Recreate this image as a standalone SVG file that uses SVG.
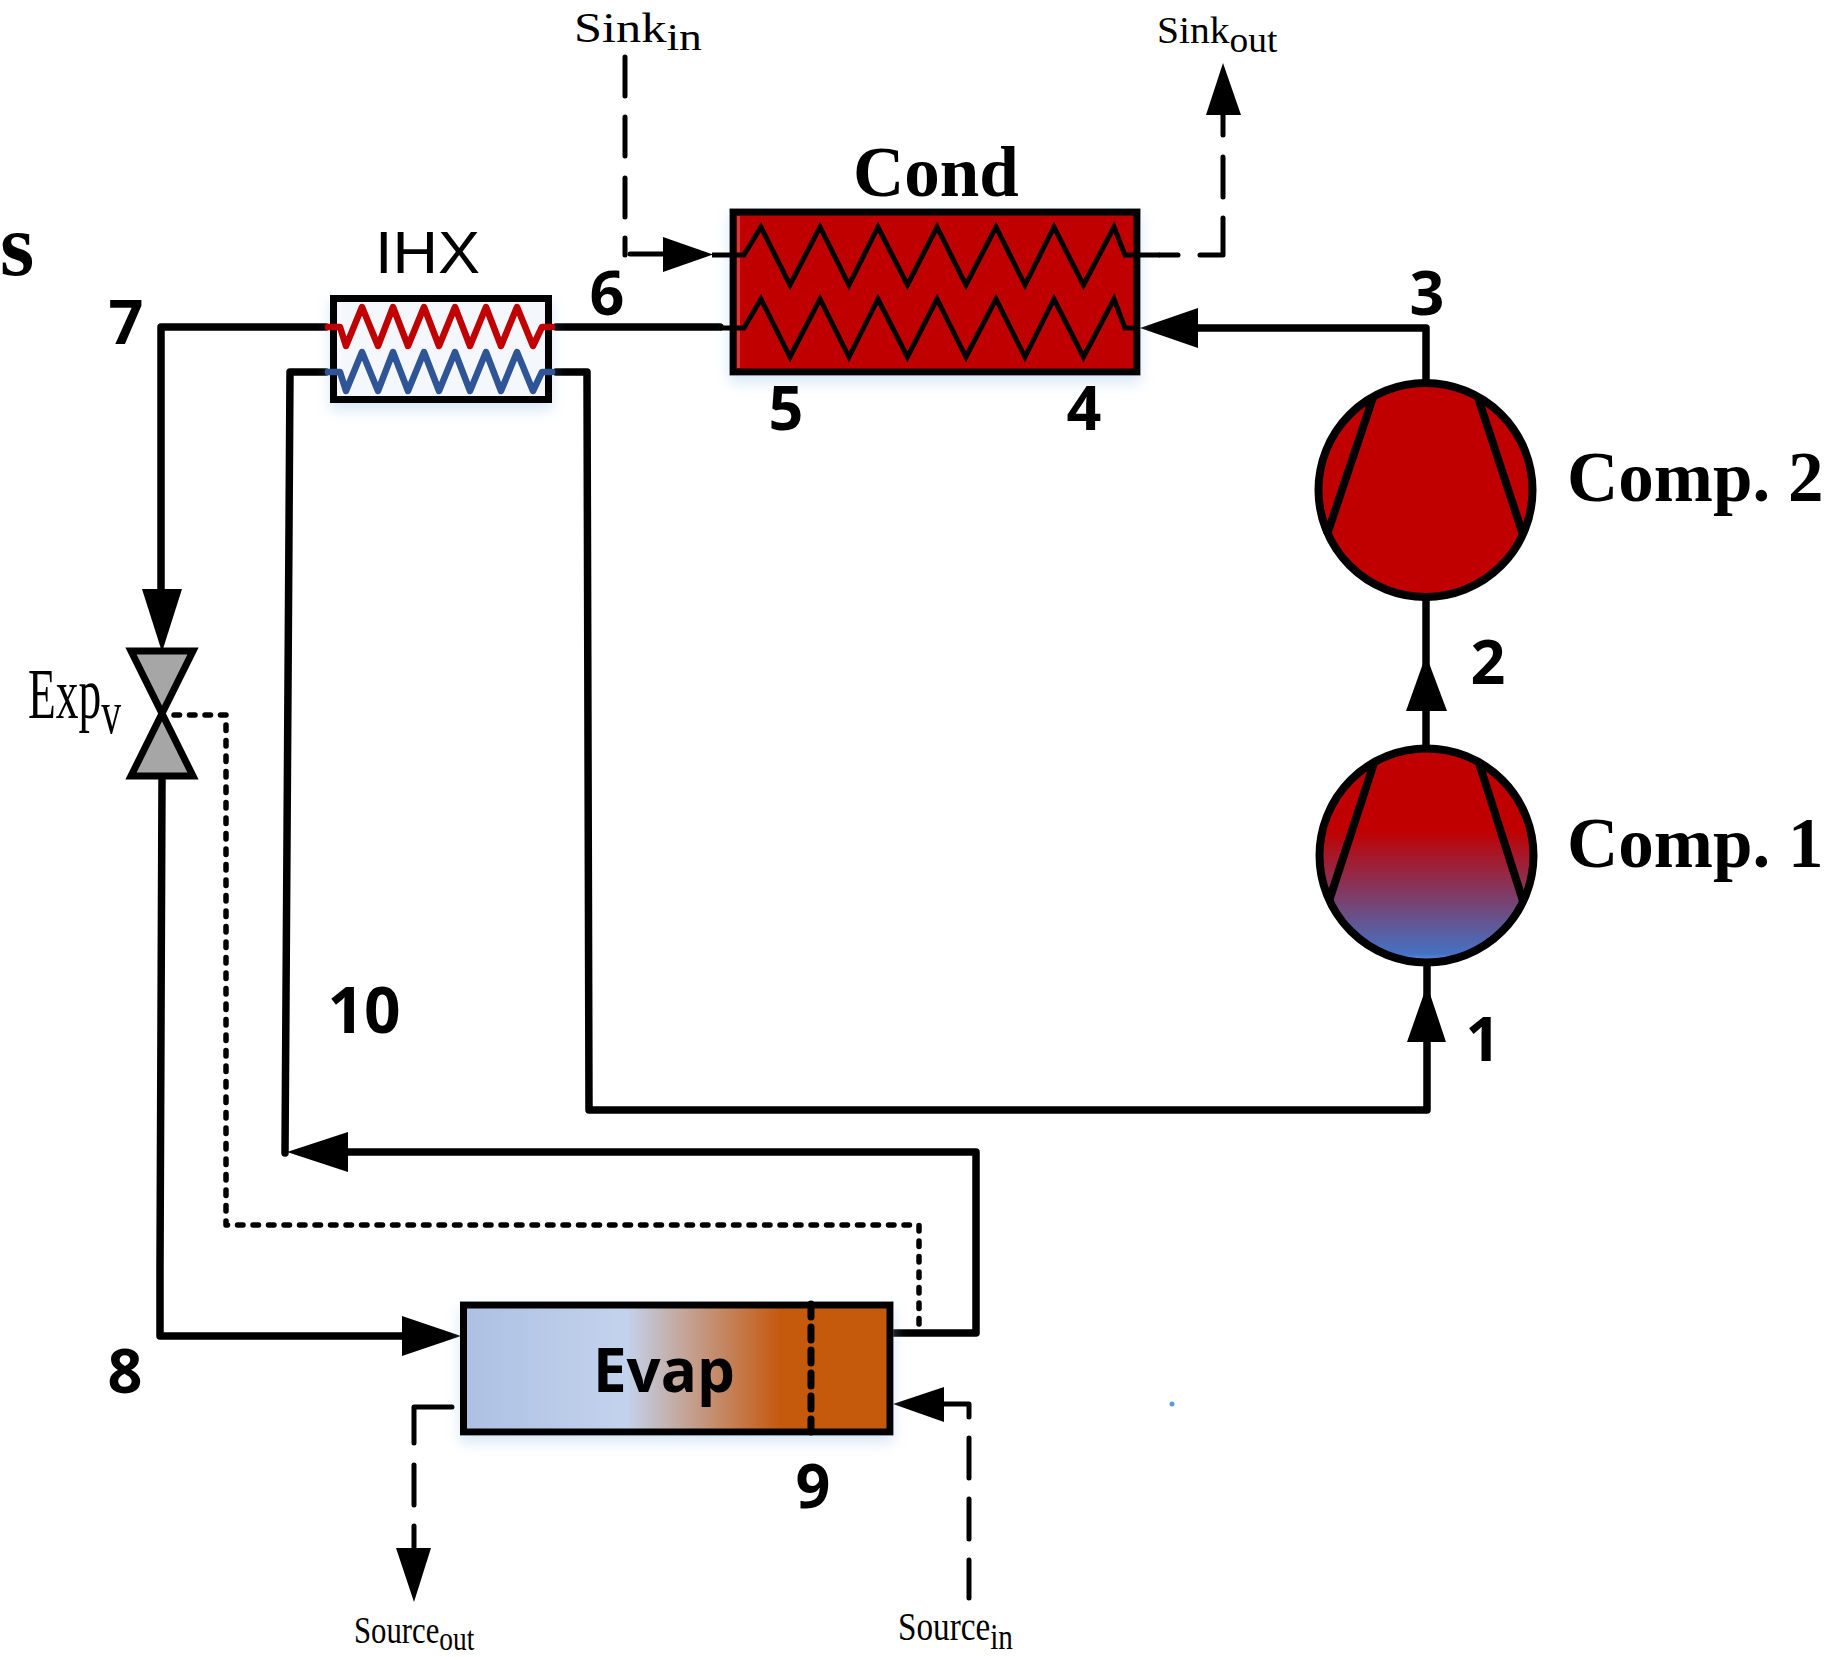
<svg xmlns="http://www.w3.org/2000/svg" width="1829" height="1657" viewBox="0 0 1829 1657">
<style>
.pipe{fill:none;stroke:#000;stroke-width:7.5;stroke-linecap:round;stroke-linejoin:round}
.thin{fill:none;stroke:#000;stroke-width:5;stroke-linejoin:miter}
.dash{fill:none;stroke:#000;stroke-width:5;stroke-linecap:round;stroke-linejoin:round}
.dot{fill:none;stroke:#000;stroke-width:5.5;stroke-linecap:round;stroke-linejoin:round;stroke-dasharray:5.5 10}
.head{fill:#000;stroke:none}
.box{stroke:#000;stroke-width:7}
.blade{fill:none;stroke:#000;stroke-width:8}
.num{font-family:"Open Sans","Noto Sans",sans-serif;font-weight:700;font-size:61px;text-anchor:middle;fill:#000}
.title{font-family:"Liberation Serif",serif;font-weight:700;font-size:71px;fill:#000}
.sub{font-family:"Liberation Serif",serif;fill:#000}
</style>
<defs>
<linearGradient id="evapFill" x1="0" y1="0" x2="1" y2="0">
<stop offset="0" stop-color="#adc0e3"/><stop offset="0.38" stop-color="#c3d3ed"/><stop offset="0.74" stop-color="#c55a11"/><stop offset="1" stop-color="#c55a11"/>
</linearGradient>
<linearGradient id="compFill" x1="0" y1="0" x2="0" y2="1">
<stop offset="0" stop-color="#c00000"/><stop offset="0.38" stop-color="#c00000"/><stop offset="0.96" stop-color="#4472c4"/><stop offset="1" stop-color="#6f94d6"/>
</linearGradient>
<filter id="glow" x="-10%" y="-20%" width="120%" height="150%">
<feDropShadow dx="0" dy="7" stdDeviation="7" flood-color="#9dc3e6" flood-opacity="0.4"/>
</filter>
</defs>

<g id="connectors">
<path class="pipe" d="M326 327H161V592"/>
<polygon class="head" points="142,589 182,589 162,652"/>
<path class="pipe" d="M162 780L160 1266V1336H404"/>
<polygon class="head" points="402,1316 402,1356 461,1336"/>
<path class="pipe" d="M326 372H290L285 1153"/>
<path class="pipe" d="M345 1152H976V1333H893"/>
<polygon class="head" points="348,1132 348,1172 287,1152"/>
<path class="pipe" d="M556 372H587L589 1110H1427V1040"/>
<polygon class="head" points="1407,1042 1446,1042 1427,985"/>
<path class="pipe" d="M1427 1000V966"/>
<path class="pipe" d="M1426 745V601"/>
<polygon class="head" points="1406,711 1447,711 1426,655"/>
<path class="pipe" d="M1426 379V328H1195"/>
<polygon class="head" points="1198,308 1198,348 1140,328"/>
<path class="pipe" d="M556 327H720"/>
<path class="dash" d="M625 57V96M625 117V156M625 178V217M625 238V255"/>
<path class="dash" d="M630 254H665"/>
<polygon class="head" points="663,237 663,272 713,254.5"/>
<path class="dash" d="M1160 255H1178M1200 255H1223V218M1223 197V157M1223 135V112"/>
<polygon class="head" points="1206,115 1241,115 1223,63"/>
<path class="dash" d="M969 1598V1560M969 1539V1499M969 1478V1438M969 1417V1404H942"/>
<polygon class="head" points="944,1387 944,1422 893,1404"/>
<path class="dash" d="M452 1407H414V1443M414 1465V1505M414 1526V1550"/>
<polygon class="head" points="396,1548 431,1548 414,1602"/>
<path class="dot" d="M174 715H226V1225H919V1325"/>
</g>

<g id="cond">
<rect class="box" x="733" y="212" width="404" height="160" fill="#c00000" filter="url(#glow)"/>
<rect x="737" y="216" width="3" height="152" fill="#d03a3a"/>
<path class="thin" d="M712 255H744L761 227L790 285L820 227L849 285L878 227L907.500 285L937 227L966 285L996 227L1025 285L1054 227L1083.500 285L1114 227L1125 255H1160"/>
<path class="thin" d="M720 328H744L761 299L790 357L820 299L849 357L878 299L907.500 357L937 299L966 357L996 299L1025 357L1054 299L1083.500 357L1114 299L1125 328H1140"/>
<text class="title" x="853" y="196">Cond</text>
</g>

<g id="ihx">
<rect class="box" x="333.500" y="298.500" width="215" height="101" fill="#f4f8fc" filter="url(#glow)"/>
<path fill="none" stroke="#c00000" stroke-width="6.500" stroke-linecap="round" stroke-linejoin="round" d="M328 327H340L346 346L362 307L378 346L393 307L408 346L424 307L439 346L455 307L470 346L486 307L501 346L517 307L533 346L542 327H552"/>
<path fill="none" stroke="#2f5597" stroke-width="6.500" stroke-linecap="round" stroke-linejoin="round" d="M328 372H340L346 391L362 352L378 391L393 352L408 391L424 352L439 391L455 352L470 391L486 352L501 391L517 352L533 391L542 372H552"/>
<text transform="translate(375 273) scale(1.05 1)" font-family="Liberation Sans,sans-serif" font-size="60" fill="#000">IHX</text>
</g>

<g id="comp2">
<circle cx="1425.500" cy="490" r="107" fill="#c00000" stroke="#000" stroke-width="8"/>
<path class="blade" d="M1373 397.500L1327 534.700M1478 397.500L1523 534.700"/>
<text class="title" x="1567" y="501">Comp. 2</text>
</g>

<g id="comp1">
<circle cx="1426.500" cy="855.500" r="107" fill="url(#compFill)" stroke="#000" stroke-width="8"/>
<path class="blade" d="M1374 763L1329 901M1479 763L1523 901"/>
<text class="title" x="1567" y="867">Comp. 1</text>
</g>

<g id="expv">
<polygon points="131,651 193,651 131,776 193,776" fill="#a6a6a6" stroke="#000" stroke-width="7" stroke-linejoin="miter"/>
<text class="sub" transform="translate(28 718) scale(0.64 1)" font-size="71">Exp<tspan dy="15" font-size="62">v</tspan></text>
</g>

<g id="evap">
<rect class="box" x="463.500" y="1305" width="426.500" height="127" fill="url(#evapFill)" filter="url(#glow)"/>
<path fill="none" stroke="#000" stroke-width="7" stroke-linecap="round" stroke-dasharray="13 10" d="M811 1304V1432"/>
<text x="664" y="1392" font-family="Open Sans,Noto Sans,sans-serif" font-weight="700" font-size="60" text-anchor="middle" fill="#000">Evap</text>
</g>

<g id="labels">
<text class="title" x="0" y="275" style="font-size:88px">s</text>
<text class="num" x="126" y="344">7</text>
<text class="num" x="607" y="315">6</text>
<text class="num" x="786" y="430">5</text>
<text class="num" x="1084" y="430">4</text>
<text class="num" x="1427" y="315">3</text>
<text class="num" x="1488" y="684">2</text>
<text class="num" x="1483" y="1061">1</text>
<text class="num" x="364" y="1033" style="font-size:64px">10</text>
<text class="num" x="125" y="1393">8</text>
<text class="num" x="813" y="1508">9</text>
<text class="sub" transform="translate(574 42) scale(1.2 1)" font-size="42">Sink<tspan dy="8" font-size="38">in</tspan></text>
<text class="sub" transform="translate(1157 43) scale(1.07 1)" font-size="37">Sink<tspan dy="9" font-size="35">out</tspan></text>
<text class="sub" transform="translate(354 1643) scale(0.83 1)" font-size="37">Source<tspan dy="7" font-size="33">out</tspan></text>
<text class="sub" transform="translate(898 1640) scale(0.81 1)" font-size="41">Source<tspan dy="9" font-size="36">in</tspan></text>
</g>

<circle id="speck" cx="1172" cy="1404" r="2.500" fill="#5b9bd5"/>
</svg>
